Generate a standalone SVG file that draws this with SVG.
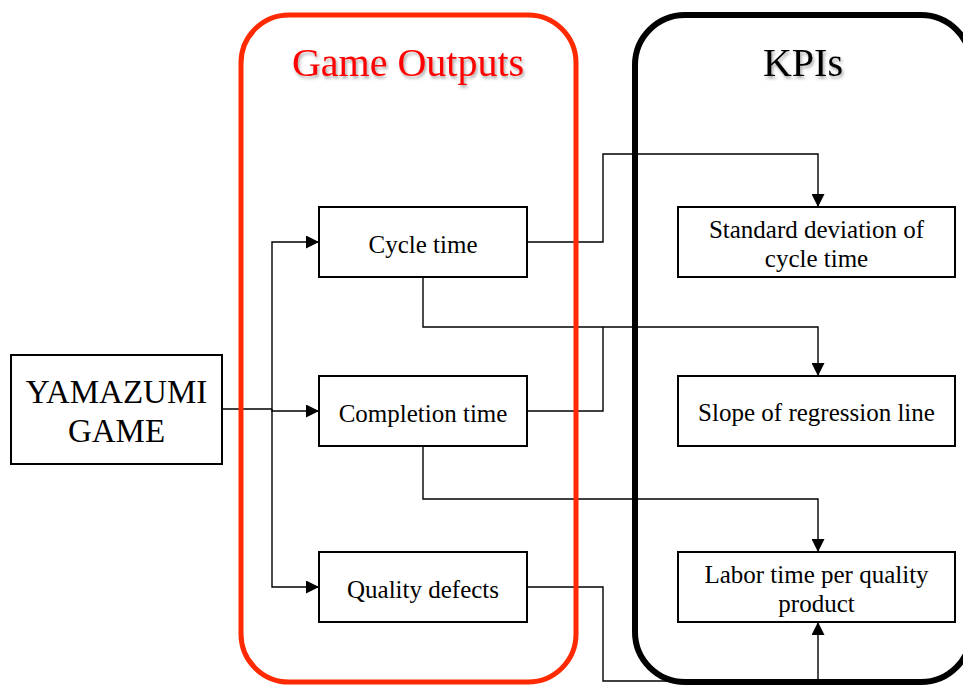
<svg xmlns="http://www.w3.org/2000/svg" width="963" height="686" viewBox="0 0 963 686">
  <style>
    .box { fill: #ffffff; stroke: #000000; stroke-width: 2; }
    .lbl { font-family: "Liberation Serif", "Times New Roman", serif; font-size: 25px; fill: #000000; text-anchor: middle; }
    .big { font-family: "Liberation Serif", "Times New Roman", serif; font-size: 33px; fill: #000000; text-anchor: middle; }
    .title { font-family: "Liberation Serif", "Times New Roman", serif; font-size: 40px; text-anchor: middle; filter: url(#shadow); }
    .wire { fill: none; stroke: #000000; stroke-width: 1.4; }
    .arrow { marker-end: url(#head); }
  </style>
  <defs>
    <marker id="head" viewBox="0 0 13 13" refX="13" refY="6.5" markerWidth="13" markerHeight="13" markerUnits="userSpaceOnUse" orient="auto">
      <path d="M0,0 L13,6.5 L0,13 Z" fill="#000000"/>
    </marker>
    <filter id="shadow" x="-10%" y="-20%" width="120%" height="150%">
      <feDropShadow dx="1.5" dy="2.5" stdDeviation="1.5" flood-color="#000000" flood-opacity="0.35"/>
    </filter>
  </defs>
  <rect width="963" height="686" fill="#ffffff"/>

  <!-- connectors -->
  <g id="connectors">
    <!-- YAMAZUMI GAME fan-out to the three outputs -->
    <path class="wire" d="M222,409 H272"/>
    <path class="wire arrow" d="M272,409 V242 H319"/>
    <path class="wire arrow" d="M272,409 V411 H319"/>
    <path class="wire arrow" d="M272,409 V587 H319"/>
    <!-- Cycle time -> Standard deviation of cycle time -->
    <path class="wire arrow" d="M527,242 H603 V154 H818 V207"/>
    <!-- Cycle time -> Slope of regression line -->
    <path class="wire arrow" d="M423,277 V327 H818 V376"/>
    <!-- Completion time -> Slope of regression line -->
    <path class="wire" d="M527,411 H603 V327"/>
    <!-- Completion time -> Labor time per quality product -->
    <path class="wire arrow" d="M423,446 V499 H818 V552"/>
    <!-- Quality defects -> Labor time per quality product (from below) -->
    <path class="wire arrow" d="M527,587 H603 V681 H818 V622"/>
  </g>

  <!-- group containers -->
  <g id="game-outputs">
    <rect x="241" y="15" width="335" height="667" rx="48" ry="48" fill="none" stroke="#ff2a00" stroke-width="5"/>
    <text class="title" x="408" y="76" fill="#ff0000">Game Outputs</text>
  </g>
  <g id="kpis">
    <rect x="635" y="15" width="336" height="667" rx="50" ry="50" fill="none" stroke="#000000" stroke-width="6"/>
    <text class="title" x="803" y="76" fill="#000000">KPIs</text>
  </g>

  <!-- nodes -->
  <g id="yamazumi-game">
    <rect class="box" x="11" y="355" width="211" height="109"/>
    <text class="big" x="116.5" y="403">YAMAZUMI</text>
    <text class="big" x="116.5" y="442">GAME</text>
  </g>
  <g id="cycle-time">
    <rect class="box" x="319" y="207" width="208" height="70"/>
    <text class="lbl" x="423" y="253">Cycle time</text>
  </g>
  <g id="completion-time">
    <rect class="box" x="319" y="376" width="208" height="70"/>
    <text class="lbl" x="423" y="422">Completion time</text>
  </g>
  <g id="quality-defects">
    <rect class="box" x="319" y="552" width="208" height="70"/>
    <text class="lbl" x="423" y="598">Quality defects</text>
  </g>
  <g id="std-deviation">
    <rect class="box" x="678" y="207" width="277" height="70"/>
    <text class="lbl" x="816.5" y="238">Standard deviation of</text>
    <text class="lbl" x="816.5" y="267">cycle time</text>
  </g>
  <g id="slope">
    <rect class="box" x="678" y="376" width="277" height="70"/>
    <text class="lbl" x="816.5" y="421">Slope of regression line</text>
  </g>
  <g id="labor-time">
    <rect class="box" x="678" y="552" width="277" height="70"/>
    <text class="lbl" x="816.5" y="583">Labor time per quality</text>
    <text class="lbl" x="816.5" y="612">product</text>
  </g>
</svg>
